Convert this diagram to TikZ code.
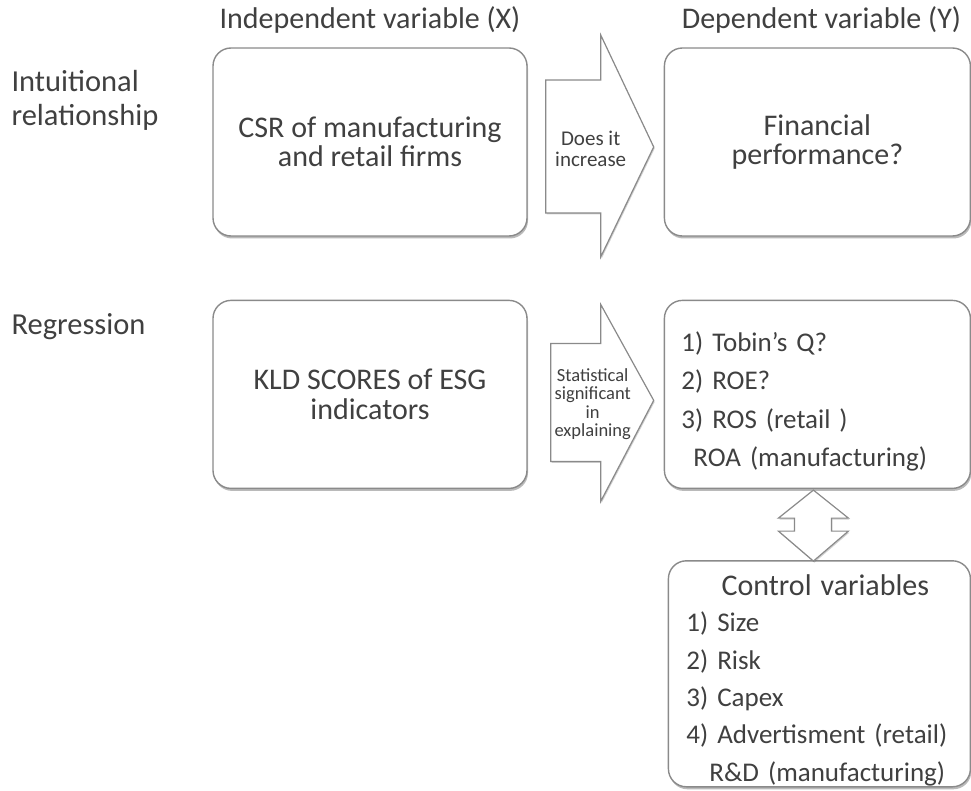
\documentclass[tikz,border=0pt]{standalone}
\usepackage{fontspec}
\setmainfont{Carlito}
\usetikzlibrary{
  positioning,
  calc,
  shadows
}
\definecolor{csrtext}{HTML}{404040}
\definecolor{csredge}{HTML}{8A8A8A}

\begin{document}
\begin{tikzpicture}[x=1pt, y=-1pt,
      box/.style={
        rectangle, rounded corners=18pt,
        minimum height=188pt, inner xsep=17pt,
        draw=csredge, line width=1.4pt, fill=white,
        drop shadow={shadow xshift=1pt, shadow yshift=-2.5pt, opacity=.45, fill=black!60},
        font=\fontsize{30}{29.5}\selectfont\color{csrtext}, align=center
      },
      listbox/.style={box, align=left, inner ysep=0pt, text height=25pt},
      head/.style={font=\fontsize{30}{30}\selectfont\color{csrtext}},
      rowlab/.style={font=\fontsize{30.5}{34}\selectfont\color{csrtext}, align=left, anchor=west},
      blockarrow/.style={draw=csredge, line width=1.2pt, fill=white, line join=miter,
        drop shadow={shadow xshift=1pt, shadow yshift=-1.5pt, opacity=.3, fill=black!60}},
      arrowtxt/.style={align=center, inner sep=0pt, color=csrtext}
    ]
      \useasboundingbox (0,0) rectangle (971,791);

      % first row
      \node[box, minimum width=314pt] (csr) at (370,142) {CSR of manufacturing\\and retail firms};
      \node[box, minimum width=306pt, right=136pt of csr] (perf) {Financial\\performance?};

      % second row
      \node[box, minimum width=314pt, below=62pt of csr, yshift=-1pt] (kld) {KLD SCORES of ESG\\indicators};
      \node[listbox, text width=272pt, text depth=111pt, right=136pt of kld,
            font=\fontsize{27}{38.5}\selectfont\color{csrtext}] (ratios) {%
        1) Tobin's Q?\\
        2) ROE?\\
        3) ROS (retail )\\
        \hspace*{12pt}ROA (manufacturing)};
      \node[listbox, text width=266pt, text depth=181pt, inner xsep=18pt, minimum height=226pt,
            font=\fontsize{27}{37.3}\selectfont\color{csrtext},
            below=71pt of ratios, xshift=2pt] (ctrl) {%
        \makebox[\linewidth]{\hspace*{12pt}\fontsize{30}{37.3}\selectfont Control variables}\\[-1.3pt]
        1) Size\\
        2) Risk\\
        3) Capex\\
        4) Advertisment (retail)\\
        \hspace*{23pt}R\&D (manufacturing)};

      % column and row labels
      \node[head, above=10pt of csr] (xlab) {Independent variable (X)};
      \node[head, above=10pt of perf, xshift=4pt] (ylab) {Dependent variable (Y)};
      \node[rowlab] (intu) at (8,100) {Intuitional\\relationship};
      \node[rowlab] (regr) at (8,327) {Regression};

      % block arrows
      \draw[blockarrow] ($(csr.east)+(18,-62)$) -- ++(55,0) -- ++(0,-45) -- ++(53,112)
        -- ++(-53,110) -- ++(0,-44) -- ++(-55,0) -- cycle;
      \node[arrowtxt, font=\fontsize{21}{21}\selectfont] (doesit)
        at ($(csr.east)+(63,7)$) {Does it\\increase};

      \draw[blockarrow] ($(kld.east)+(23,-51)$) -- ++(50,0) -- ++(0,-39) -- ++(53,96)
        -- ++(-53,101) -- ++(0,-40) -- ++(-50,0) -- cycle;
      \node[arrowtxt, font=\fontsize{18.5}{18.5}\selectfont] (signif)
        at ($(kld.east)+(65,10)$) {Statistical\\significant\\in\\explaining};

      \draw[blockarrow] ($(ratios.south)+(-4,1)$) -- ++(35,28) -- ++(-17,0) -- ++(0,13)
        -- ++(17,0) -- ++(-35,30) -- ++(-35,-30) -- ++(16,0) -- ++(0,-13) -- ++(-16,0) -- cycle;
    \end{tikzpicture}
\end{document}
